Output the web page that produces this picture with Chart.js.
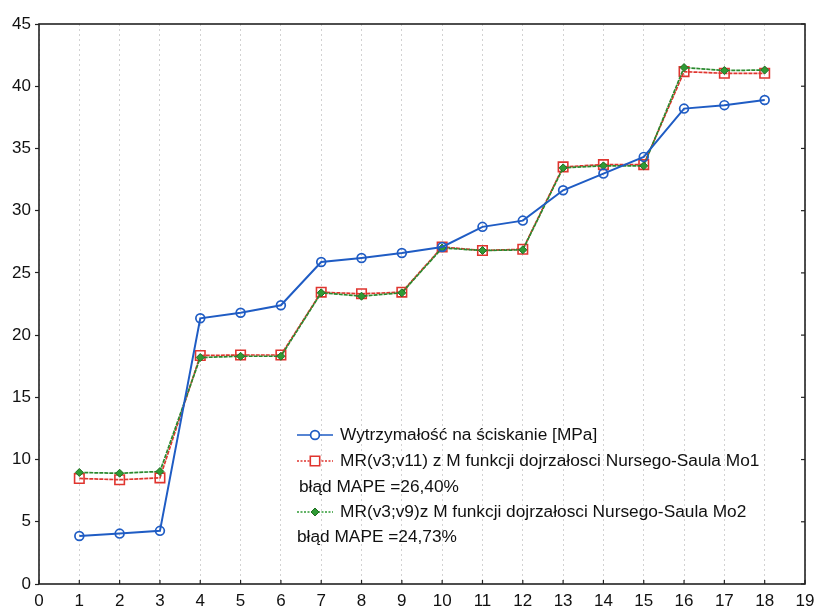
<!DOCTYPE html>
<html>
<head>
<meta charset="utf-8">
<script src="https://cdn.jsdelivr.net/npm/chart.js@4/dist/chart.umd.min.js"></script>
<style>
html,body{margin:0;padding:0;background:#fff;}
#wrap{width:815px;height:610px;}
</style>
</head>
<body>
<div id="wrap"><canvas id="c" width="815" height="610"></canvas></div>
<script>
const categories = [1,2,3,4,5,6,7,8,9,10,11,12,13,14,15,16,17,18];
const seriesMeasured = [3.86,4.05,4.27,21.35,21.8,22.4,25.87,26.2,26.6,27.08,28.7,29.2,31.64,32.98,34.32,38.2,38.48,38.89];
const seriesMo1 = [8.48,8.38,8.53,18.36,18.4,18.4,23.45,23.32,23.45,27.08,26.8,26.9,33.52,33.7,33.7,41.17,41.04,41.04];
const seriesMo2 = [8.96,8.9,9.04,18.2,18.3,18.3,23.4,23.13,23.4,27.0,26.8,26.85,33.44,33.6,33.6,41.5,41.26,41.3];
const xTicks = [0,1,2,3,4,5,6,7,8,9,10,11,12,13,14,15,16,17,18,19];
const yTicks = [0,5,10,15,20,25,30,35,40,45];
const legendLines = [
  'Wytrzymałość na ściskanie [MPa]',
  'MR(v3;v11) z M funkcji dojrzałosci Nursego-Saula Mo1',
  'błąd MAPE =26,40%',
  'MR(v3;v9)z M funkcji dojrzałosci Nursego-Saula Mo2',
  'błąd MAPE =24,73%'
];

const FONT = "'Liberation Sans', Arial, sans-serif";
const BLUE = '#1f5cc4', RED = '#e0352f', GREEN = '#2f9a34';

function pts(arr){ return categories.map((c,i)=>({x:c,y:arr[i]})); }

function drawMarker(ctx, type, x, y){
  ctx.save();
  ctx.setLineDash([]);
  if(type==='circle'){
    ctx.beginPath(); ctx.arc(x,y,4.4,0,Math.PI*2);
    ctx.fillStyle='#fff'; ctx.fill();
    ctx.strokeStyle=BLUE; ctx.lineWidth=1.7; ctx.stroke();
  } else if(type==='rect'){
    ctx.beginPath(); ctx.rect(x-4.7,y-4.7,9.4,9.4);
    ctx.fillStyle='#fff'; ctx.fill();
    ctx.strokeStyle=RED; ctx.lineWidth=1.6; ctx.stroke();
  } else {
    ctx.beginPath(); ctx.moveTo(x,y-4); ctx.lineTo(x+4,y); ctx.lineTo(x,y+4); ctx.lineTo(x-4,y); ctx.closePath();
    ctx.fillStyle=GREEN; ctx.fill();
    ctx.strokeStyle='#1f6e22'; ctx.lineWidth=1; ctx.stroke();
  }
  ctx.restore();
}

const framePlugin = {
  id:'frame',
  afterDatasetsDraw(chart){
    const {ctx, chartArea:a, scales} = chart;
    ctx.save();
    ctx.strokeStyle='#222'; ctx.lineWidth=1.6; ctx.setLineDash([]);
    ctx.strokeRect(a.left, a.top, a.right-a.left, a.bottom-a.top);
    ctx.lineWidth=1.2;
    xTicks.forEach(v=>{
      const px = scales.x.getPixelForValue(v);
      ctx.beginPath(); ctx.moveTo(px,a.bottom); ctx.lineTo(px,a.bottom-4); ctx.stroke();
    });
    yTicks.forEach(v=>{
      const py = scales.y.getPixelForValue(v);
      ctx.beginPath(); ctx.moveTo(a.right,py); ctx.lineTo(a.right-4,py); ctx.stroke();
    });
    ctx.restore();

    const lx0 = 297, lx1 = 333, tx = 340;
    const rows = [
      {y:435, type:'circle', color:BLUE, dash:[], text:legendLines[0]},
      {y:461, type:'rect', color:RED, dash:[2,1.5], text:legendLines[1]},
      {y:487, text:legendLines[2], tx:299},
      {y:512, type:'diamond', color:GREEN, dash:[2,1.5], text:legendLines[3]},
      {y:537, text:legendLines[4], tx:297}
    ];
    ctx.save();
    ctx.font = '17.3px ' + FONT;
    ctx.textBaseline='middle';
    ctx.fillStyle='#111';
    rows.forEach(r=>{
      if(r.type){
        ctx.beginPath(); ctx.setLineDash(r.dash); ctx.strokeStyle=r.color; ctx.lineWidth=1.5;
        ctx.moveTo(lx0,r.y); ctx.lineTo(lx1,r.y); ctx.stroke();
        drawMarker(ctx, r.type, 315, r.y);
        ctx.fillText(r.text, tx, r.y);
      } else {
        ctx.fillText(r.text, r.tx, r.y);
      }
    });
    ctx.restore();
  }
};

new Chart(document.getElementById('c'), {
  type:'line',
  data:{
    datasets:[
      {label:legendLines[0], data:pts(seriesMeasured), borderColor:BLUE, backgroundColor:'#fff',
       borderWidth:2, pointStyle:'circle', pointRadius:4.4, pointBorderWidth:1.7, pointBorderColor:BLUE, pointBackgroundColor:'rgba(255,255,255,0)', order:1, tension:0},
      {label:legendLines[3], data:pts(seriesMo2), borderColor:'#2a8a2e', backgroundColor:GREEN,
       borderWidth:1.7, borderDash:[4,1], pointStyle:'rectRot', pointRadius:4, pointBorderWidth:1, pointBorderColor:'#1f6e22', pointBackgroundColor:GREEN, order:2, tension:0},
      {label:legendLines[1], data:pts(seriesMo1), borderColor:RED, backgroundColor:'#fff',
       borderWidth:1.7, borderDash:[4,1], pointStyle:'rect', pointRadius:6.7, pointBorderWidth:1.6, pointBorderColor:RED, pointBackgroundColor:'rgba(255,255,255,0)', order:3, tension:0}
    ]
  },
  options:{
    responsive:false,
    animation:false,
    devicePixelRatio:1,
    layout:{padding:{left:0,right:10,top:24,bottom:0}},
    plugins:{legend:{display:false}, tooltip:{enabled:false}},
    scales:{
      x:{type:'linear', min:0, max:19,
         afterBuildTicks(s){ s.ticks = xTicks.map(v=>({value:v})); },
         afterFit(s){ s.height = 26; s.paddingLeft = 0; s.paddingRight = 0; },
         ticks:{font:{family:FONT,size:17}, color:'#111', padding:7, maxRotation:0, autoSkip:false},
         grid:{drawOnChartArea:true, drawTicks:false, color:'#d2d2d2', lineWidth:1, tickLength:0},
         border:{display:false, dash:[2,3]}
      },
      y:{type:'linear', min:0, max:45,
         afterBuildTicks(s){ s.ticks = yTicks.map(v=>({value:v})); },
         afterFit(s){ s.width = 39; },
         ticks:{font:{family:FONT,size:17}, color:'#111', padding:4},
         grid:{drawOnChartArea:false, drawTicks:true, tickLength:4, tickColor:'#222', tickWidth:1.2},
         border:{display:false}
      }
    }
  },
  plugins:[framePlugin]
});
</script>
</body>
</html>
